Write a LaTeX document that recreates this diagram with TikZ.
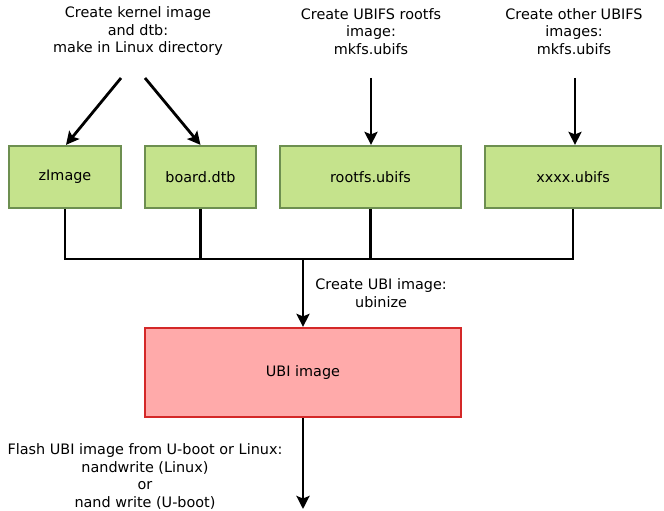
\documentclass[tikz,border=0pt]{standalone}
\usepackage{fontspec}
\setmainfont{DejaVu Sans}
\usepackage{xcolor}
\definecolor{cImg}{HTML}{C5E38C}
\definecolor{cImgLine}{HTML}{6D8F50}
\definecolor{cUbi}{HTML}{FFAAAA}
\definecolor{cUbiLine}{HTML}{D42828}
\usepackage{tikz}
\usetikzlibrary{positioning,arrows.meta,calc}
\tikzset{
  node-img/.style={draw=cImgLine,line width=2.2pt,fill=cImg,
    minimum height=62pt,align=center,inner sep=0pt},
  node-ubi/.style={draw=cUbiLine,line width=2.2pt,fill=cUbi,
    minimum height=89pt,minimum width=316pt,align=center,inner sep=0pt},
  node-note/.style={align=center,inner sep=0pt},
  arrow/.style={-{Stealth[length=13pt,width=13pt,inset=2.5pt]},line width=2.8pt,draw=black},
  wire/.style={line width=2.8pt,draw=black},
}
\begin{document}
\begin{tikzpicture}[x=1pt,y=-1pt,font=\fontsize{14.4}{17.5}\selectfont]
  \path[use as bounding box] (0,0) rectangle (664,511);
  % image files
  \node[node-img,minimum width=112pt] (zimg)   at (65,177)    {zImage};
  \node[node-img,minimum width=111pt] (dtb)    at (200.5,177) {board.dtb};
  \node[node-img,minimum width=181pt] (rootfs) at (370.5,177) {rootfs.ubifs};
  \node[node-img,minimum width=176pt] (xxxx)   at (573,177)   {xxxx.ubifs};
  \node[node-ubi] (ubi) at (303,372.5) {UBI image};
  % notes
  \node[node-note] (n-kern)   at (138,31.5)  {Create kernel image\\and dtb:\\make in Linux directory};
  \node[node-note] (n-rootfs) at (371,31.5)  {Create UBIFS rootfs\\image:\\mkfs.ubifs};
  \node[node-note] (n-other)  at (574,31.5)  {Create other UBIFS\\images:\\mkfs.ubifs};
  \node[node-note] (n-flash)  at (145,476.5) {Flash UBI image from U-boot or Linux:\\nandwrite (Linux)\\or\\nand write (U-boot)};
  \coordinate (k-left)  at (121,78);
  \coordinate (k-right) at (145,78);
  \coordinate (r-top)   at (371,78);
  \coordinate (o-top)   at (575,78);
  \coordinate (bus)     at (303,259);
  \coordinate (flash)   at (303,509);
  \draw[arrow] (k-left)  -- ($(zimg.north)+(1,0)$);
  \draw[arrow] (k-right) -- (dtb.north);
  \draw[arrow] (r-top)   -- (r-top |- rootfs.north);
  \draw[arrow] (o-top)   -- (o-top |- xxxx.north);
  % collect into ubi
  \draw[wire] (zimg.south) -- (zimg.south |- bus) -- (xxxx.south |- bus) -- (xxxx.south);
  \draw[wire] (dtb.south) -- (dtb.south |- bus);
  \draw[wire] (rootfs.south) -- (rootfs.south |- bus);
  \draw[arrow] (bus) -- node[right=11pt,node-note]{Create UBI image:\\ubinize} (ubi.north);
  \draw[arrow] (ubi.south) -- (flash);
\end{tikzpicture}
\end{document}
